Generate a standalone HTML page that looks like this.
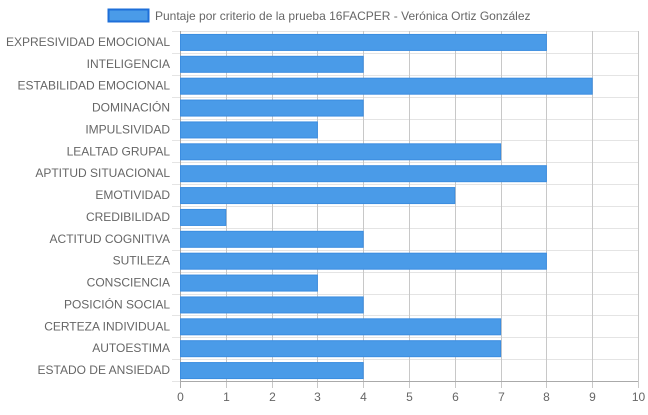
<!DOCTYPE html>
<html><head><meta charset="utf-8"><style>
body{margin:0;background:#fff;}
text{font-family:"Liberation Sans",Arial,sans-serif;fill:#666;font-size:12px;}
</style></head><body>
<svg id="c" width="648" height="410"></svg>
<script>
const categories=["EXPRESIVIDAD EMOCIONAL","INTELIGENCIA","ESTABILIDAD EMOCIONAL","DOMINACIÓN","IMPULSIVIDAD","LEALTAD GRUPAL","APTITUD SITUACIONAL","EMOTIVIDAD","CREDIBILIDAD","ACTITUD COGNITIVA","SUTILEZA","CONSCIENCIA","POSICIÓN SOCIAL","CERTEZA INDIVIDUAL","AUTOESTIMA","ESTADO DE ANSIEDAD"];
const values=[8,4,9,4,3,7,8,6,1,4,8,3,4,7,7,4];
const ticks=[0,1,2,3,4,5,6,7,8,9,10];
const seriesLabel="Puntaje por criterio de la prueba 16FACPER - Verónica Ortiz González";
const svg=document.getElementById('c');const NS='http://www.w3.org/2000/svg';
const L=180,R=638,T=31,B=381;
const x=v=>L+(v-ticks[0])/(ticks[ticks.length-1]-ticks[0])*(R-L);
const rh=(B-T)/categories.length;
const yc=i=>T+rh*(i+0.5);
function mk(t,a,p){const e=document.createElementNS(NS,t);for(const k in a)e.setAttribute(k,a[k]);(p||svg).appendChild(e);return e;}
// legend
const lb=mk('rect',{x:108.5,y:9.5,width:40,height:12,fill:'#4a9be8',stroke:'#1e6fd9','stroke-width':2});


const lt=mk('text',{x:155,y:20});lt.textContent=seriesLabel;


// horizontal grid
for(let i=0;i<=categories.length;i++){const y=Math.round(T+rh*i)+0.5;
 const g=mk('line',{x1:172,x2:R,y1:y,y2:y,stroke:'#e4e4e4'});
 
 }
// vertical grid
ticks.forEach(t=>{const xx=Math.round(x(t))+0.5;
 const g=mk('line',{x1:xx,x2:xx,y1:T,y2:B+7,stroke:t===0?'#aaa':'#c8c8c8'});
 
 
 const tx=mk('text',{x:xx,y:B+20,'text-anchor':'middle'});tx.textContent=t;
 
 });
const ax=mk('line',{x1:L,x2:R,y1:B+0.5,y2:B+0.5,stroke:'#aaa'});


categories.forEach((c,i)=>{
 const y=yc(i);
 const t=mk('text',{x:170,y:y+4,'text-anchor':'end'});t.textContent=c;
 
 
 const b=mk('rect',{x:L+0.5,y:y-7.5,width:x(values[i])-L-0.5,height:16,fill:'#4a9be8',stroke:'#3b8de0','stroke-width':1});
 
 
});
</script>
</body></html>
